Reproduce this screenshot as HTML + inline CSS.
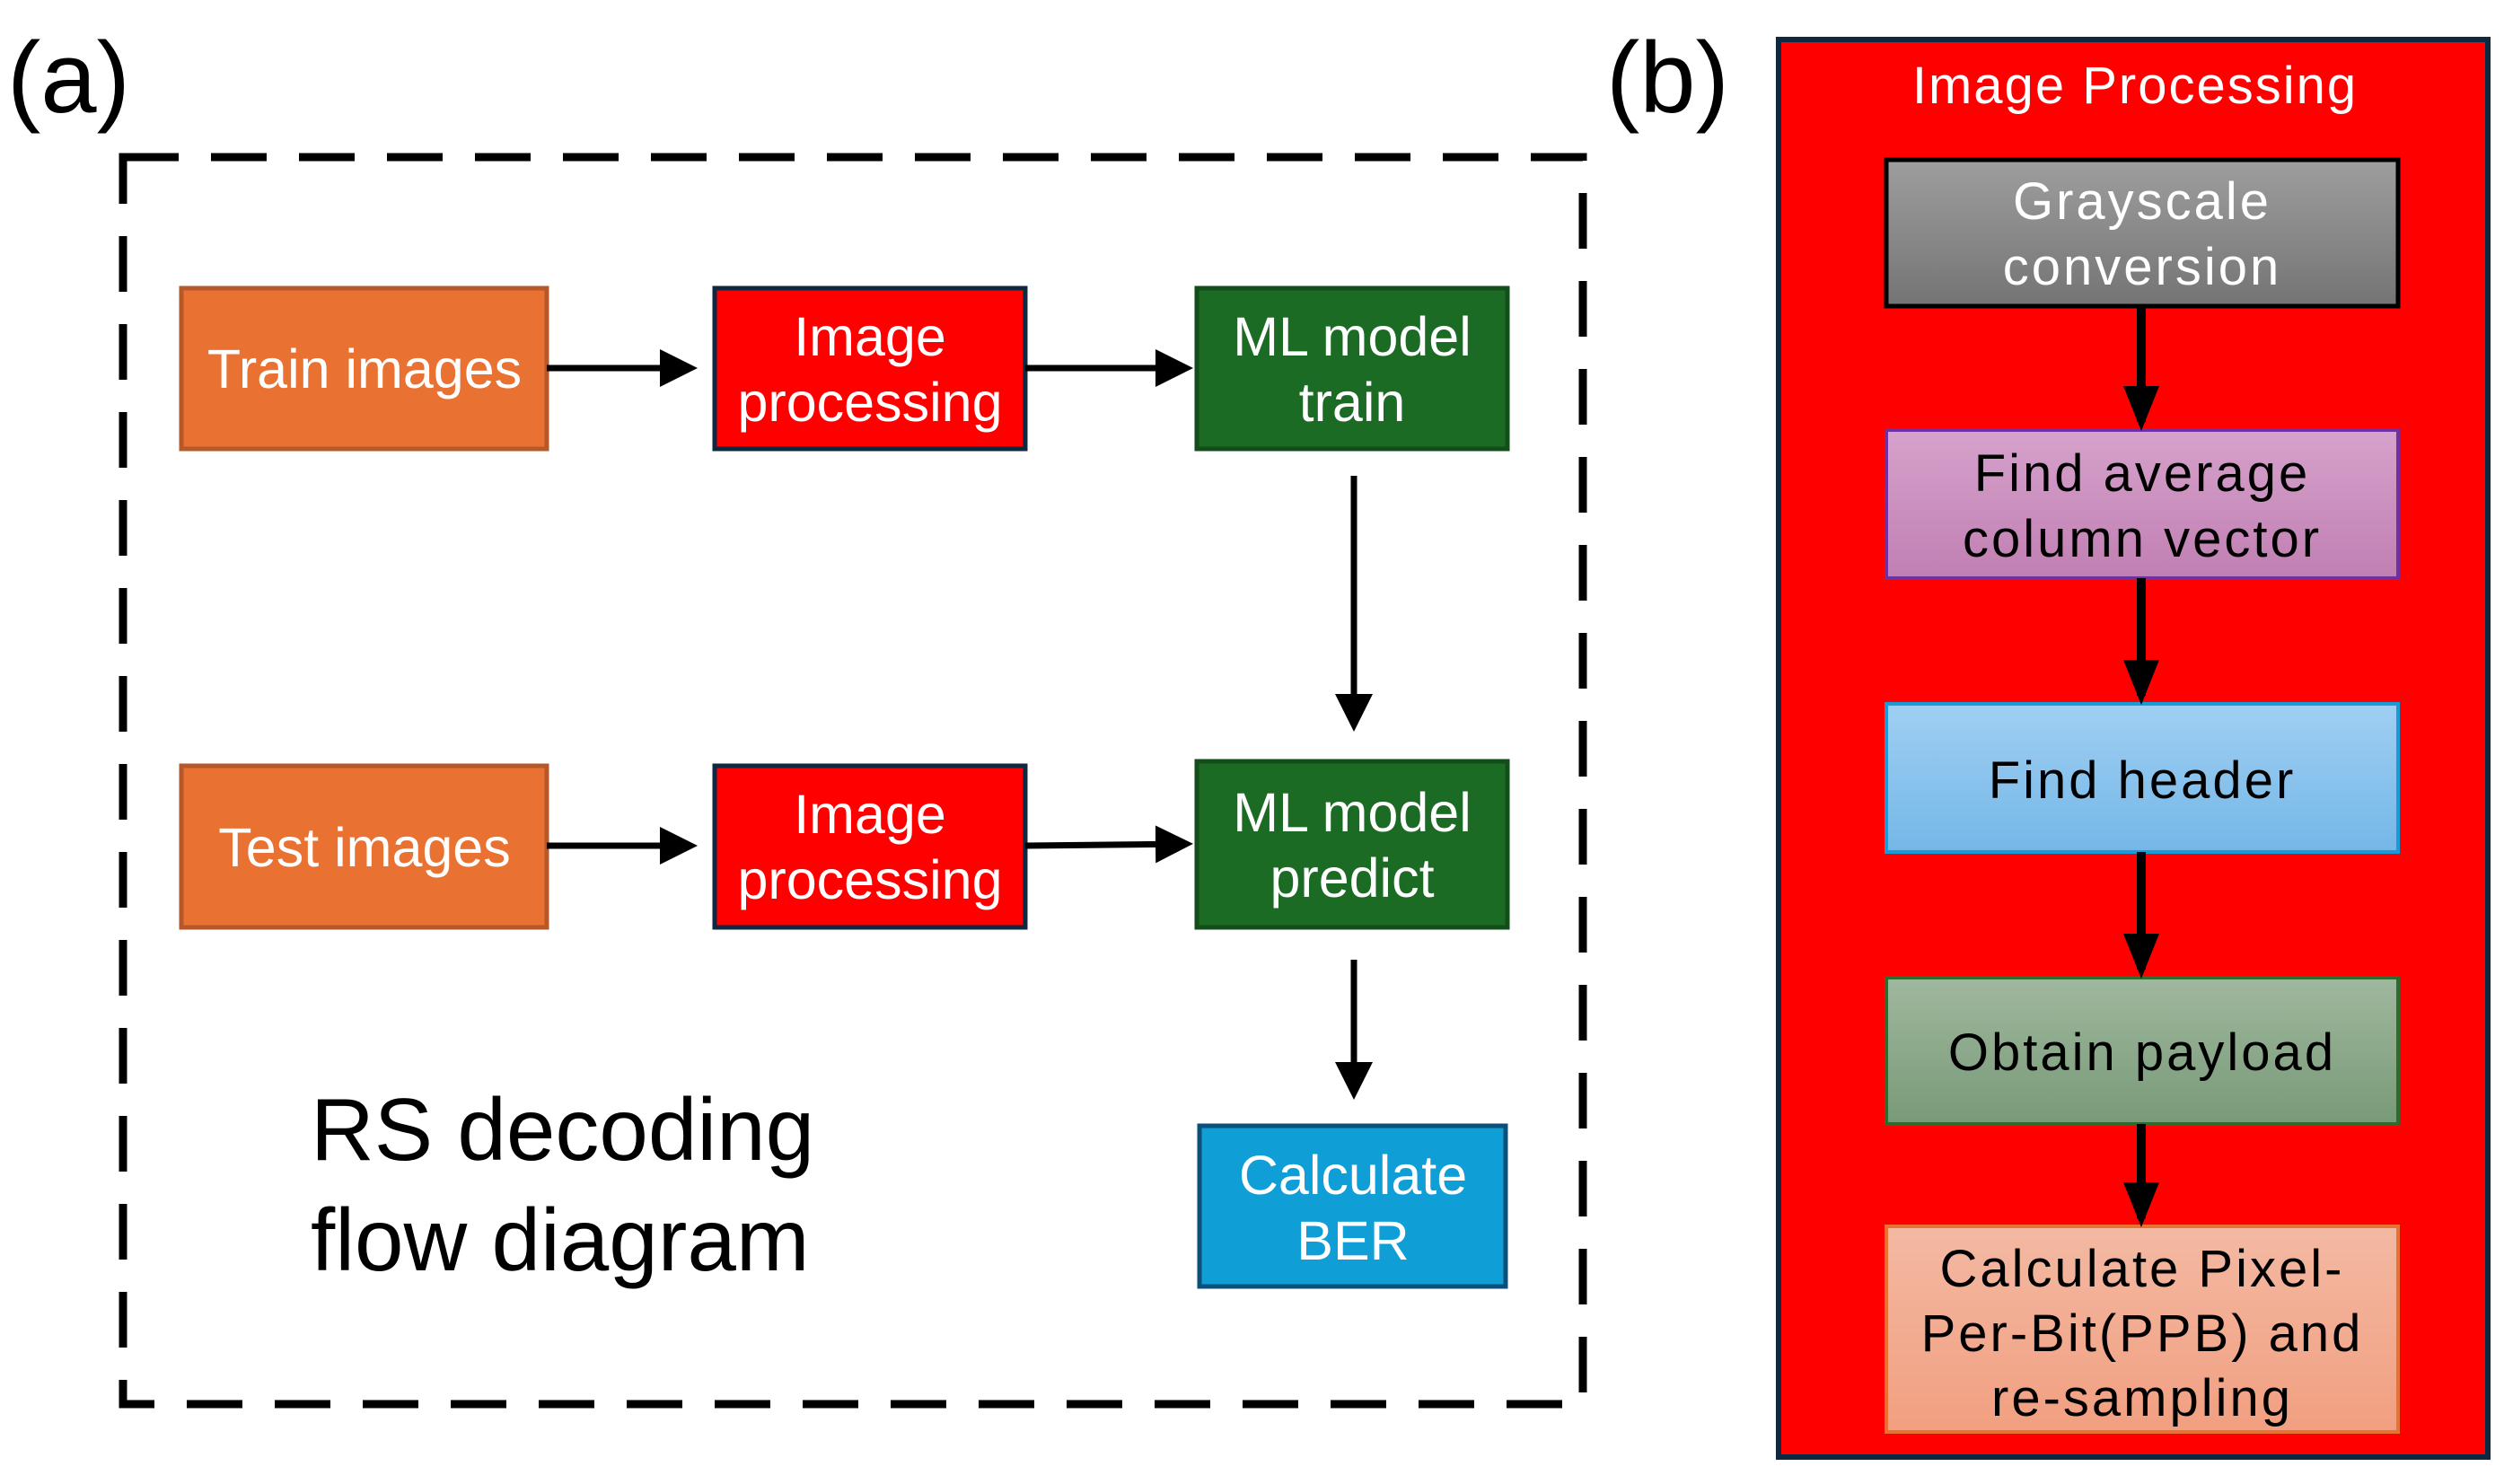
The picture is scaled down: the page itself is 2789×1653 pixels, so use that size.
<!DOCTYPE html>
<html><head><meta charset="utf-8"><style>
html,body{margin:0;padding:0;background:#fff;}
svg{display:block;}
text{font-family:"Liberation Sans",Arial,sans-serif;}
</style></head><body>
<svg width="2789" height="1653" viewBox="0 0 2789 1653" xmlns="http://www.w3.org/2000/svg">
<defs>
<marker id="ah" markerWidth="6" markerHeight="6" refX="5" refY="3" orient="auto" markerUnits="strokeWidth"><path d="M0,0 L6,3 L0,6 z" fill="#000"/></marker>
<marker id="ah2" markerWidth="5" markerHeight="4" refX="4" refY="2" orient="auto" markerUnits="strokeWidth"><path d="M0,0 L5,2 L0,4 z" fill="#000"/></marker>
<linearGradient id="g1" x1="0" y1="0" x2="0" y2="1"><stop offset="0" stop-color="#9e9e9e"/><stop offset="1" stop-color="#747474"/></linearGradient>
<linearGradient id="g2" x1="0" y1="0" x2="0" y2="1"><stop offset="0" stop-color="#d6a2cc"/><stop offset="1" stop-color="#c07fb2"/></linearGradient>
<linearGradient id="g3" x1="0" y1="0" x2="0" y2="1"><stop offset="0" stop-color="#a0cff3"/><stop offset="1" stop-color="#74b7e7"/></linearGradient>
<linearGradient id="g4" x1="0" y1="0" x2="0" y2="1"><stop offset="0" stop-color="#a0b89e"/><stop offset="1" stop-color="#789a78"/></linearGradient>
<linearGradient id="g5" x1="0" y1="0" x2="0" y2="1"><stop offset="0" stop-color="#f3b9a3"/><stop offset="1" stop-color="#f29f80"/></linearGradient>
</defs>

<!-- Panel a -->
<text x="8" y="125" font-size="112" fill="#000">(a)</text>
<rect x="137" y="175" width="1626" height="1389" fill="none" stroke="#000" stroke-width="9" stroke-dasharray="62,36"/>

<rect x="202" y="321" width="407" height="179" fill="#E97132" stroke="#B5582a" stroke-width="5"/>
<text x="406" y="432" font-size="61" fill="#fff" text-anchor="middle">Train images</text>
<rect x="796" y="321" width="346" height="179" fill="#FF0000" stroke="#0e2841" stroke-width="5"/>
<text x="969" y="396" font-size="61" fill="#fff" text-anchor="middle">Image</text>
<text x="969" y="469" font-size="61" fill="#fff" text-anchor="middle">processing</text>
<rect x="1333" y="321" width="346" height="179" fill="#1B6B24" stroke="#124d1a" stroke-width="5"/>
<text x="1506" y="396" font-size="61" fill="#fff" text-anchor="middle">ML model</text>
<text x="1506" y="469" font-size="61" fill="#fff" text-anchor="middle">train</text>

<rect x="202" y="853" width="407" height="180" fill="#E97132" stroke="#B5582a" stroke-width="5"/>
<text x="406" y="965" font-size="61" fill="#fff" text-anchor="middle">Test images</text>
<rect x="796" y="853" width="346" height="180" fill="#FF0000" stroke="#0e2841" stroke-width="5"/>
<text x="969" y="928" font-size="61" fill="#fff" text-anchor="middle">Image</text>
<text x="969" y="1001" font-size="61" fill="#fff" text-anchor="middle">processing</text>
<rect x="1333" y="848" width="346" height="185" fill="#1B6B24" stroke="#124d1a" stroke-width="5"/>
<text x="1506" y="926" font-size="61" fill="#fff" text-anchor="middle">ML model</text>
<text x="1506" y="999" font-size="61" fill="#fff" text-anchor="middle">predict</text>

<rect x="1336" y="1254" width="341" height="179" fill="#0F9ED5" stroke="#0c4f78" stroke-width="5"/>
<text x="1507" y="1330" font-size="61" fill="#fff" text-anchor="middle">Calculate</text>
<text x="1507" y="1403" font-size="61" fill="#fff" text-anchor="middle">BER</text>

<g stroke="#000" stroke-width="7" fill="none">
<line x1="609" y1="410" x2="770" y2="410" marker-end="url(#ah)"/>
<line x1="1142" y1="410" x2="1322" y2="410" marker-end="url(#ah)"/>
<line x1="609" y1="942" x2="770" y2="942" marker-end="url(#ah)"/>
<line x1="1142" y1="942" x2="1322" y2="940" marker-end="url(#ah)"/>
<line x1="1508" y1="530" x2="1508" y2="808" marker-end="url(#ah)"/>
<line x1="1508" y1="1069" x2="1508" y2="1218" marker-end="url(#ah)"/>
</g>

<text x="346" y="1292" font-size="98" fill="#000">RS decoding</text>
<text x="346" y="1415" font-size="98" fill="#000">flow diagram</text>

<!-- Panel b -->
<text x="1789" y="125" font-size="112" fill="#000">(b)</text>
<rect x="1981" y="44" width="790" height="1579" fill="#FF0000" stroke="#0e2841" stroke-width="6"/>
<text x="2378" y="115" font-size="58" fill="#fff" text-anchor="middle" letter-spacing="2">Image Processing</text>

<rect x="2101" y="178" width="570" height="163" fill="url(#g1)" stroke="#000" stroke-width="5"/>
<text x="2386" y="244" font-size="58" fill="#fff" text-anchor="middle" letter-spacing="3">Grayscale</text>
<text x="2386" y="317" font-size="58" fill="#fff" text-anchor="middle" letter-spacing="3">conversion</text>

<rect x="2101" y="479" width="570" height="165" fill="url(#g2)" stroke="#7030a0" stroke-width="4"/>
<text x="2386" y="547" font-size="58" fill="#000" text-anchor="middle" letter-spacing="3">Find average</text>
<text x="2386" y="620" font-size="58" fill="#000" text-anchor="middle" letter-spacing="3">column vector</text>

<rect x="2101" y="784" width="570" height="165" fill="url(#g3)" stroke="#1a9ad6" stroke-width="4"/>
<text x="2386" y="889" font-size="58" fill="#000" text-anchor="middle" letter-spacing="3">Find header</text>

<rect x="2101" y="1089" width="570" height="163" fill="url(#g4)" stroke="#2e6b2e" stroke-width="4"/>
<text x="2386" y="1192" font-size="58" fill="#000" text-anchor="middle" letter-spacing="3">Obtain payload</text>

<rect x="2101" y="1366" width="570" height="229" fill="url(#g5)" stroke="#e97132" stroke-width="4"/>
<text x="2386" y="1433" font-size="58" fill="#000" text-anchor="middle" letter-spacing="3">Calculate Pixel-</text>
<text x="2386" y="1505" font-size="58" fill="#000" text-anchor="middle" letter-spacing="3">Per-Bit(PPB) and</text>
<text x="2386" y="1577" font-size="58" fill="#000" text-anchor="middle" letter-spacing="3">re-sampling</text>

<g stroke="#000" stroke-width="10" fill="none">
<line x1="2385" y1="341" x2="2385" y2="470" marker-end="url(#ah2)"/>
<line x1="2385" y1="644" x2="2385" y2="775" marker-end="url(#ah2)"/>
<line x1="2385" y1="949" x2="2385" y2="1080" marker-end="url(#ah2)"/>
<line x1="2385" y1="1252" x2="2385" y2="1357" marker-end="url(#ah2)"/>
</g>
</svg>
</body></html>
